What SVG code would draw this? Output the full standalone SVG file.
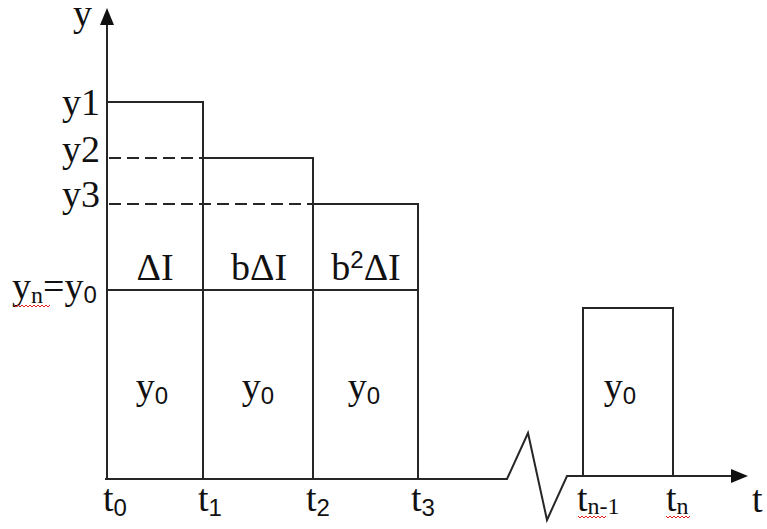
<svg xmlns="http://www.w3.org/2000/svg" width="767" height="529" viewBox="0 0 767 529">
<style>
.ln{stroke:#262626;stroke-width:2;fill:none}
.ds{stroke:#262626;stroke-width:2;fill:none;stroke-dasharray:12 6}
.ah{fill:#111;stroke:none}
.t{font-family:"Liberation Serif","Times New Roman",serif;font-size:38px;fill:#111}
.s{font-family:"Liberation Sans",Arial,sans-serif;font-size:24px}
.sq{stroke:#e02020;stroke-width:1;fill:none}
</style>
<rect width="767" height="529" fill="#fff"/>
<g id="connectors">
<line class="ln" x1="107" y1="480" x2="107" y2="22"/>
<polygon class="ah" points="107,8 100,25 114,25"/>
<polyline class="ln" points="105,479 507,479 528,433 547,520 567,476 734,476"/>
<polygon class="ah" points="748,476 731,469 731,483"/>
<polyline class="ln" points="107,102 203,102 203,479"/>
<polyline class="ln" points="203,158 313,158 313,479"/>
<polyline class="ln" points="313,204 418,204 418,479"/>
<line class="ln" x1="107" y1="290" x2="418" y2="290"/>
<line class="ds" x1="109" y1="158" x2="203" y2="158"/>
<line class="ds" x1="109" y1="204" x2="313" y2="204"/>
<polyline class="ln" points="583,476 583,308 673,308 673,476"/>
</g>
<g id="axis-labels">
<text class="t" x="73" y="26" font-size="36">y</text>
<text class="t" x="752" y="512">t</text>
<text class="t" x="100" y="115" text-anchor="end">y1</text>
<text class="t" x="100" y="162" text-anchor="end">y2</text>
<text class="t" x="100" y="207" text-anchor="end">y3</text>
<text class="t" x="12" y="299">y<tspan font-size="24" dy="4">n</tspan><tspan dy="-4">=y</tspan><tspan class="s" dy="4">0</tspan></text>
<path class="sq" d="M14,305 l2,2 2,-2 2,2 2,-2 2,2 2,-2 2,2 2,-2 2,2 2,-2 2,2 2,-2 2,2 2,-2 2,2 2,-2 2,2 2,-2"/>
</g>
<g id="band-labels">
<text class="t" x="155" y="280" text-anchor="middle">ΔI</text>
<text class="t" x="259" y="280" text-anchor="middle">bΔI</text>
<text class="t" x="366" y="280" text-anchor="middle">b<tspan class="s" dy="-12">2</tspan><tspan dy="12">ΔI</tspan></text>
</g>
<g id="box1"><text class="t" x="152" y="399" text-anchor="middle">y<tspan class="s" font-size="24" dy="5">0</tspan></text></g>
<g id="box2"><text class="t" x="258" y="399" text-anchor="middle">y<tspan class="s" font-size="24" dy="5">0</tspan></text></g>
<g id="box3"><text class="t" x="364" y="399" text-anchor="middle">y<tspan class="s" font-size="24" dy="5">0</tspan></text></g>
<g id="boxn"><text class="t" x="620" y="399" text-anchor="middle">y<tspan class="s" font-size="24" dy="5">0</tspan></text></g>
<g id="time-labels">
<text class="t" x="103" y="511">t<tspan class="s" dy="5">0</tspan></text>
<text class="t" x="198" y="511">t<tspan class="s" dy="5">1</tspan></text>
<text class="t" x="306" y="511">t<tspan class="s" dy="5">2</tspan></text>
<text class="t" x="411" y="511">t<tspan class="s" dy="5">3</tspan></text>
<text class="t" x="577" y="511">t<tspan font-size="24" dy="3">n-1</tspan></text>
<text class="t" x="666" y="511">t<tspan font-size="24" dy="3">n</tspan></text>
<path class="sq" d="M578,516 l2,2 2,-2 2,2 2,-2 2,2 2,-2 2,2 2,-2 2,2 2,-2 2,2 2,-2 2,2 2,-2"/>
<path class="sq" d="M666,516 l2,2 2,-2 2,2 2,-2 2,2 2,-2 2,2 2,-2 2,2 2,-2 2,2 2,-2"/>
</g>
</svg>
